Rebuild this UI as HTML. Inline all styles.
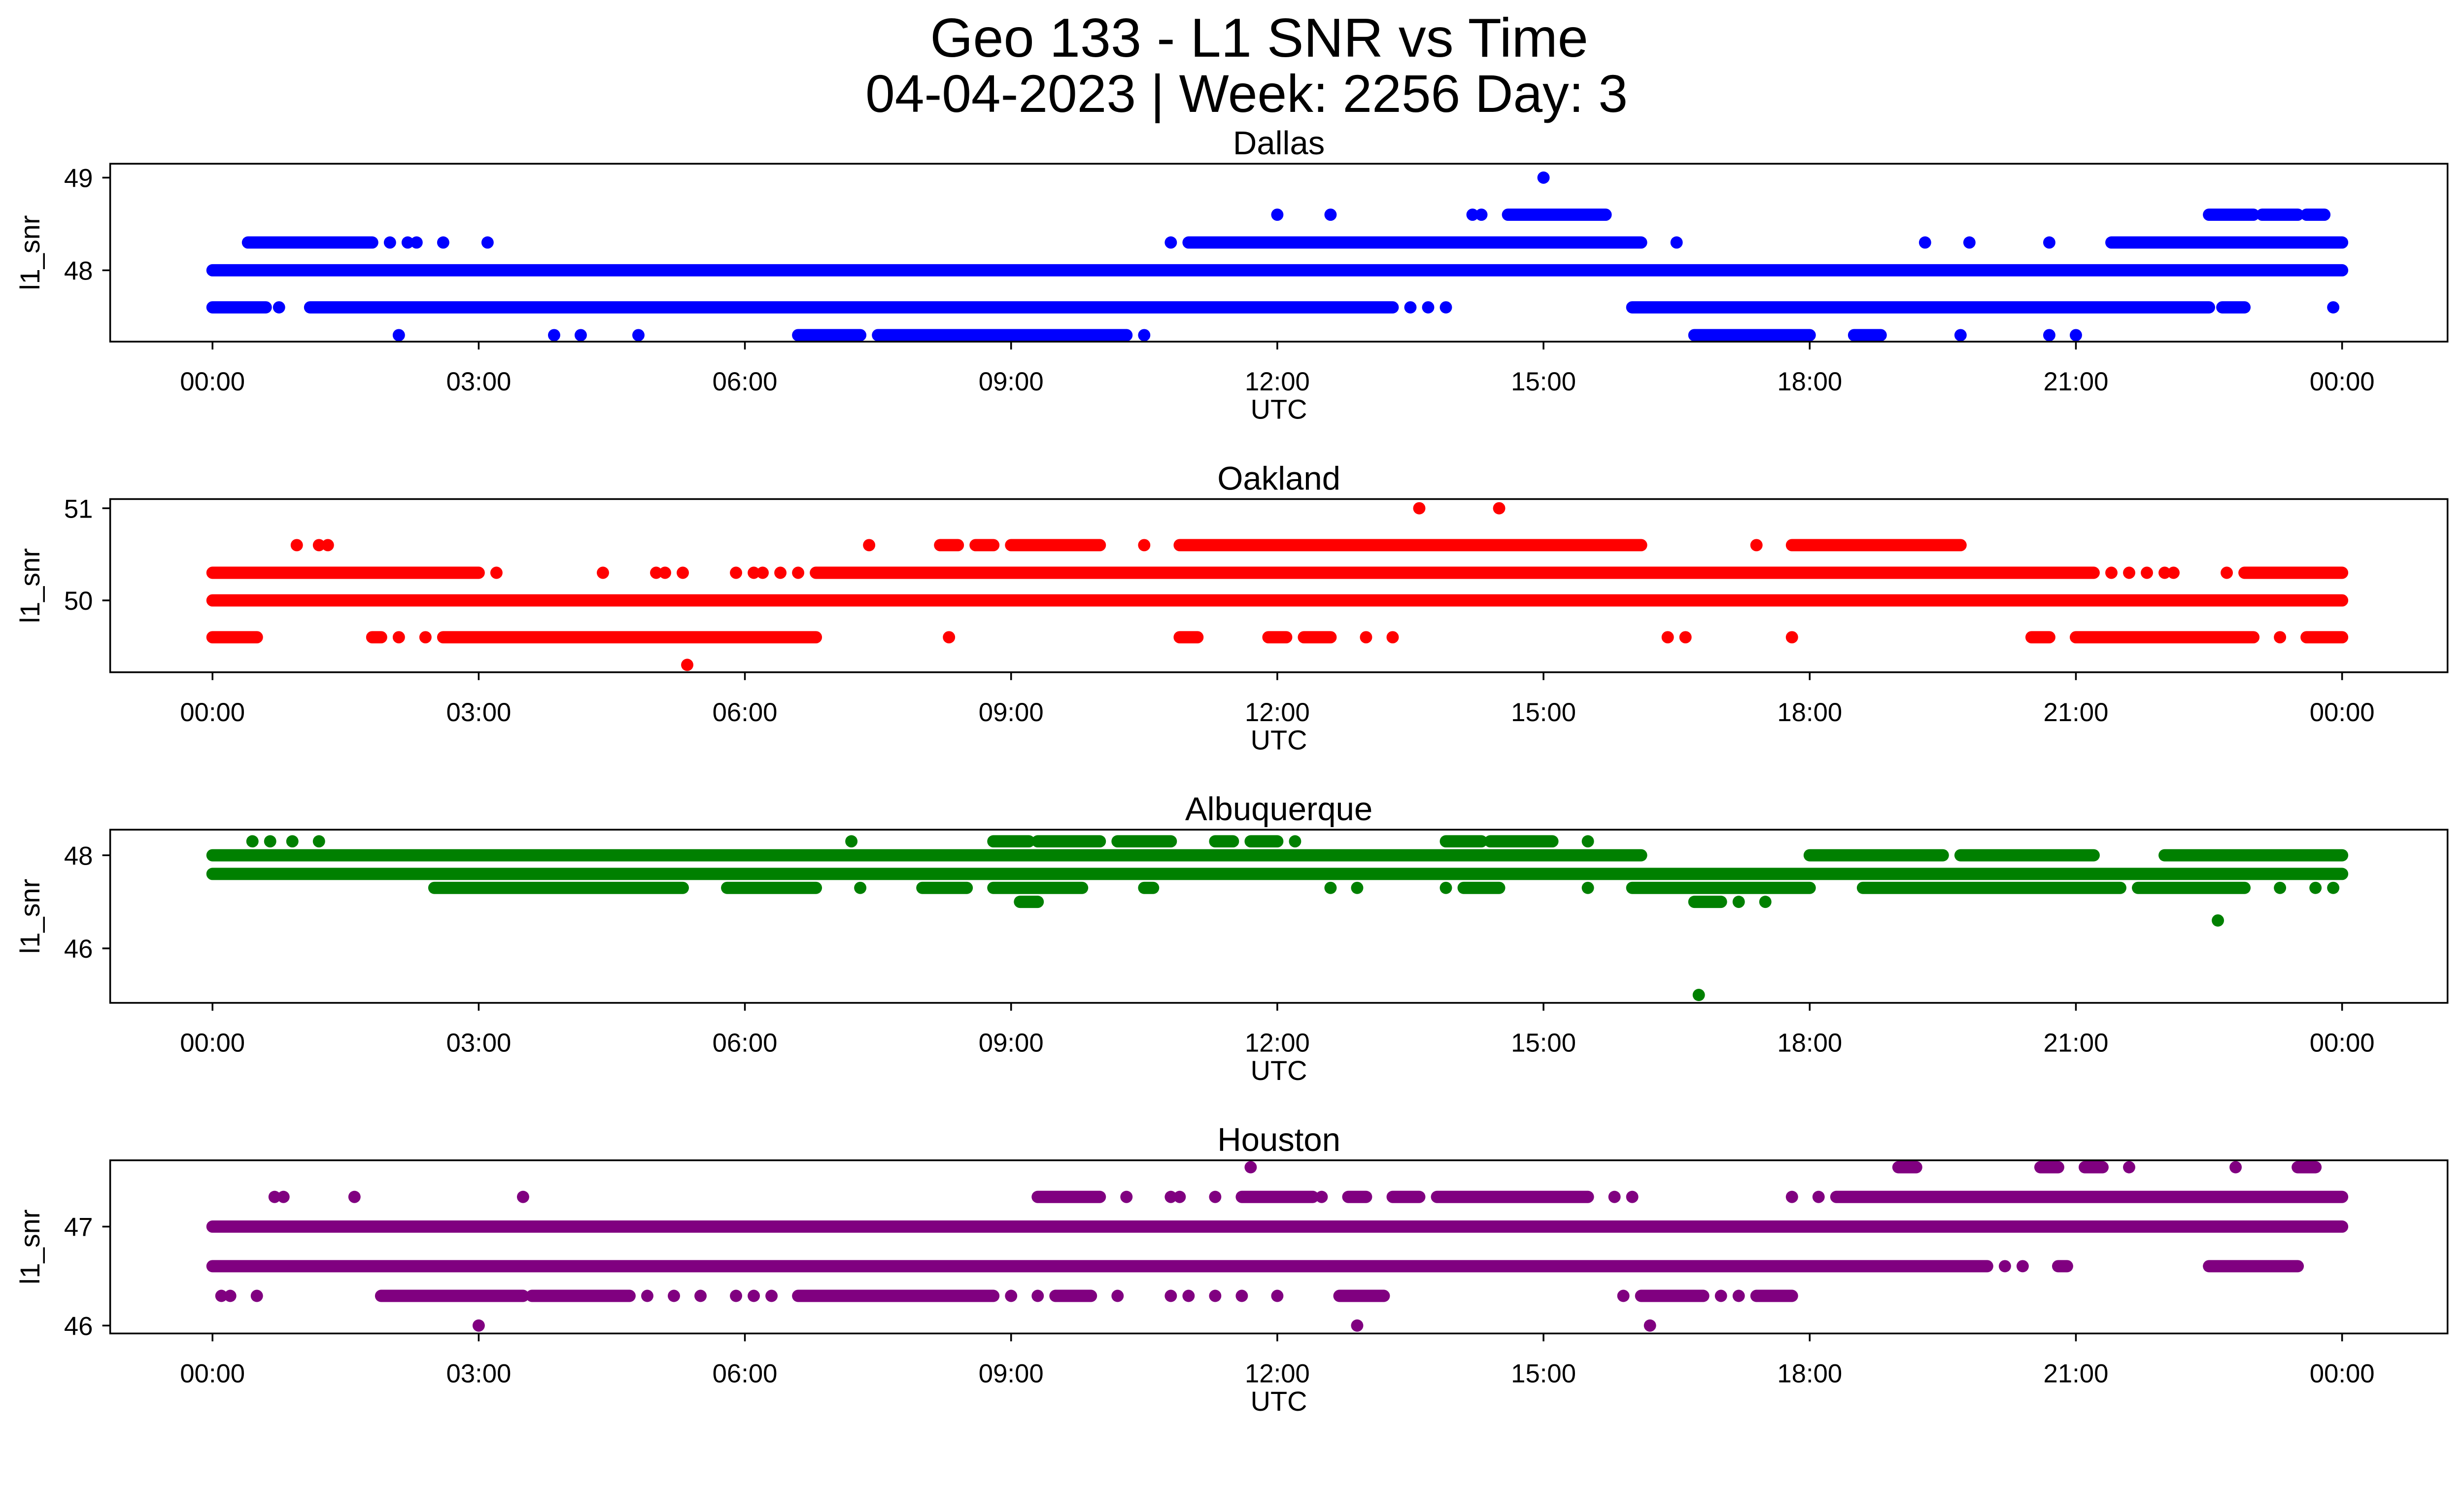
<!DOCTYPE html>
<html><head><meta charset="utf-8"><style>
html,body{margin:0;padding:0;background:#fff}
svg{display:block;font-family:"Liberation Sans","DejaVu Sans",sans-serif}
</style></head><body>
<svg id="fig" width="5226" height="3033" viewBox="0 0 1636.2 949.6" xmlns="http://www.w3.org/2000/svg">
<rect width="1636.2" height="949.6" fill="#fff"/>
<text x="800" y="36" font-size="35" text-anchor="middle">Geo 133 - L1 SNR vs Time</text>
<text x="792" y="71" font-size="33.6" text-anchor="middle">04-04-2023 | Week: 2256 Day: 3</text>
<g id="plots"></g>
</svg>
<script>
// x tick labels (hours)
const xTickHours = [0,3,6,9,12,15,18,21,24];
const xTickLabels = ["00:00","03:00","06:00","09:00","12:00","15:00","18:00","21:00","00:00"];

// Dallas: runs [level, startHour, endHour], points [level, hour]
const dallasRuns = [[48,0,24],[47.6,0,0.6],[47.6,1.1,13.3],[47.6,16.0,22.5],[47.6,22.65,22.9],
 [47.3,6.6,7.3],[47.3,7.5,10.3],[47.3,16.7,18.0],[47.3,18.5,18.8],
 [48.3,0.4,1.8],[48.3,11.0,16.1],[48.3,21.4,24],[48.6,14.6,15.7],[48.6,22.5,23.0],[48.6,23.1,23.5],[48.6,23.6,23.8]];
const dallasPoints = [[47.6,0.75],[47.6,13.5],[47.6,13.7],[47.6,13.9],[47.6,23.9],
 [47.3,2.1],[47.3,3.85],[47.3,4.15],[47.3,4.8],[47.3,10.5],[47.3,19.7],[47.3,20.7],[47.3,21.0],
 [48.3,2.0],[48.3,2.2],[48.3,2.3],[48.3,2.6],[48.3,3.1],[48.3,10.8],[48.3,16.5],[48.3,19.3],[48.3,19.8],[48.3,20.7],
 [48.6,12.0],[48.6,12.6],[48.6,14.2],[48.6,14.3],[49,15.0]];
const dallasTicks = [48,49];

const oaklandRuns = [[50,0,24],[50.3,0,3.0],[50.3,6.8,21.2],[50.3,22.9,24],
 [50.6,8.2,8.4],[50.6,8.6,8.8],[50.6,9.0,10.0],[50.6,10.9,16.1],[50.6,17.8,19.7],
 [49.6,0,0.5],[49.6,1.8,1.9],[49.6,2.6,6.8],[49.6,10.9,11.1],[49.6,11.9,12.1],[49.6,12.3,12.6],[49.6,20.5,20.7],[49.6,21.0,23.0],[49.6,23.6,24]];
const oaklandPoints = [[50.3,3.2],[50.3,4.4],[50.3,5.0],[50.3,5.1],[50.3,5.3],[50.3,5.9],[50.3,6.1],[50.3,6.2],[50.3,6.4],[50.3,6.6],
 [50.3,21.4],[50.3,21.6],[50.3,21.8],[50.3,22.0],[50.3,22.1],[50.3,22.7],
 [50.6,0.95],[50.6,1.2],[50.6,1.3],[50.6,7.4],[50.6,10.5],[50.6,17.4],
 [51,13.6],[51,14.5],[49.6,2.1],[49.6,2.4],[49.6,8.3],[49.6,13.0],[49.6,13.3],[49.6,16.4],[49.6,16.6],[49.6,17.8],[49.6,23.3],[49.3,5.35]];
const oaklandTicks = [50,51];

const albuquerqueRuns = [[48,0,16.1],[48,18.0,19.5],[48,19.7,21.2],[48,22.0,24],[47.6,0,24],
 [47.3,2.5,5.3],[47.3,5.8,6.8],[47.3,8.0,8.5],[47.3,8.8,9.8],[47.3,10.5,10.6],[47.3,14.1,14.5],[47.3,16.0,18.0],[47.3,18.6,21.5],[47.3,21.7,22.9],
 [48.3,8.8,9.2],[48.3,9.3,10.0],[48.3,10.2,10.8],[48.3,11.3,11.5],[48.3,11.7,12.0],[48.3,13.9,14.3],[48.3,14.4,15.1],
 [47,9.1,9.3],[47,16.7,17.0]];
const albuquerquePoints = [[47.3,7.3],[47.3,12.6],[47.3,12.9],[47.3,13.9],[47.3,15.5],[47.3,23.3],[47.3,23.7],[47.3,23.9],
 [48.3,0.45],[48.3,0.65],[48.3,0.9],[48.3,1.2],[48.3,7.2],[48.3,12.2],[48.3,15.5],
 [47,17.2],[47,17.5],[46.6,22.6],[45,16.75]];
const albuquerqueTicks = [46,48];

const houstonRuns = [[47,0,24],[46.6,0,20.0],[46.6,20.8,20.9],[46.6,22.5,23.5],
 [46.3,1.9,3.5],[46.3,3.6,4.7],[46.3,6.6,8.8],[46.3,9.5,9.9],[46.3,12.7,13.2],[46.3,16.1,16.8],[46.3,17.4,17.8],
 [47.3,9.3,10.0],[47.3,11.6,12.4],[47.3,12.8,13.0],[47.3,13.3,13.6],[47.3,13.8,15.5],[47.3,18.3,24],
 [47.6,19.0,19.2],[47.6,20.6,20.8],[47.6,21.1,21.3],[47.6,23.5,23.7]];
const houstonPoints = [[46.6,20.2],[46.6,20.4],[46.3,0.1],[46.3,0.2],[46.3,0.5],[46.3,4.9],[46.3,5.2],[46.3,5.5],[46.3,5.9],[46.3,6.1],[46.3,6.3],
 [46.3,9.0],[46.3,9.3],[46.3,10.2],[46.3,10.8],[46.3,11.0],[46.3,11.3],[46.3,11.6],[46.3,12.0],[46.3,15.9],[46.3,17.0],[46.3,17.2],
 [47.3,0.7],[47.3,0.8],[47.3,1.6],[47.3,3.5],[47.3,10.3],[47.3,10.8],[47.3,10.9],[47.3,11.3],[47.3,12.5],[47.3,15.8],[47.3,16.0],[47.3,17.8],[47.3,18.1],
 [47.6,11.7],[47.6,21.6],[47.6,22.8],[46,3.0],[46,12.9],[46,16.2]];
const houstonTicks = [46,47];

const panels = [
 {name:"Dallas",color:"#0000ff",top:104,bot:217,ymin:47.23,ymax:49.15,runs:dallasRuns,pts:dallasPoints,ticks:dallasTicks},
 {name:"Oakland",color:"#ff0000",top:317,bot:427,ymin:49.22,ymax:51.1,runs:oaklandRuns,pts:oaklandPoints,ticks:oaklandTicks},
 {name:"Albuquerque",color:"#008000",top:527,bot:637,ymin:44.83,ymax:48.55,runs:albuquerqueRuns,pts:albuquerquePoints,ticks:albuquerqueTicks},
 {name:"Houston",color:"#800080",top:737,bot:847,ymin:45.92,ymax:47.67,runs:houstonRuns,pts:houstonPoints,ticks:houstonTicks}
];
const NS="http://www.w3.org/2000/svg";
const L=70,R=1555,X0=135,X24=1488,MR=3.9;
function xs(h){return X0+(X24-X0)*h/24;}
const root=document.getElementById('plots');
function mk(tag,attrs,parent){const e=document.createElementNS(NS,tag);for(const k in attrs)e.setAttribute(k,attrs[k]);parent.appendChild(e);return e;}
panels.forEach(p=>{
 const g=mk('g',{},root);
 
 
 const ys=v=>p.bot-(v-p.ymin)/(p.ymax-p.ymin)*(p.bot-p.top);
 const t=mk('text',{x:(L+R)/2,y:p.top-6,'font-size':21,'text-anchor':'middle'},g);t.textContent=p.name;
 
 
 p.runs.forEach(r=>{
  const ln=mk('line',{x1:xs(r[1]),x2:xs(r[2]),y1:ys(r[0]),y2:ys(r[0]),stroke:p.color,'stroke-width':MR*2,'stroke-linecap':'round'},g);
  
  
 });
 p.pts.forEach(q=>{
  const c=mk('circle',{cx:xs(q[1]),cy:ys(q[0]),r:MR,fill:p.color},g);
  
  
 });
 const fr=mk('rect',{x:L,y:p.top,width:R-L,height:p.bot-p.top,fill:'none',stroke:'#000','stroke-width':1.1},g);
 
 
 xTickHours.forEach((h,i)=>{
  mk('line',{x1:xs(h),x2:xs(h),y1:p.bot,y2:p.bot+5,stroke:'#000','stroke-width':1.1},g);
  const tl=mk('text',{x:xs(h),y:p.bot+31,'font-size':16.5,'text-anchor':'middle'},g);tl.textContent=xTickLabels[i];
  
  
 });
 p.ticks.forEach(v=>{
  mk('line',{x1:L-5,x2:L,y1:ys(v),y2:ys(v),stroke:'#000','stroke-width':1.1},g);
  const tl=mk('text',{x:L-11,y:ys(v)+6,'font-size':16.5,'text-anchor':'end'},g);tl.textContent=v;
  
  
 });
 const xl=mk('text',{x:(L+R)/2,y:p.bot+49,'font-size':17.5,'text-anchor':'middle'},g);xl.textContent='UTC';
 
 
 const cy=(p.top+p.bot)/2;
 const yl=mk('text',{x:25,y:cy,'font-size':17.5,'text-anchor':'middle',transform:`rotate(-90 25 ${cy})`},g);yl.textContent='l1_snr';
 
 
});
</script>
</body></html>
